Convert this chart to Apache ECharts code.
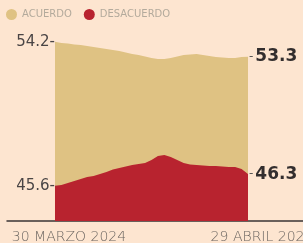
<!DOCTYPE html>
<html>
<head>
<meta charset="utf-8">
<script src="https://cdn.jsdelivr.net/npm/echarts@6/dist/echarts.min.js"></script>
<style>
  html, body { margin: 0; padding: 0; background: #fde5d0; }
  #chart { width: 303px; height: 243px; }
</style>
</head>
<body>
<div id="chart"></div>
<script>
const days = [
  '2024-03-30', '2024-03-31', '2024-04-01', '2024-04-02', '2024-04-03', '2024-04-04',
  '2024-04-05', '2024-04-06', '2024-04-07', '2024-04-08', '2024-04-09', '2024-04-10',
  '2024-04-11', '2024-04-12', '2024-04-13', '2024-04-14', '2024-04-15', '2024-04-16',
  '2024-04-17', '2024-04-18', '2024-04-19', '2024-04-20', '2024-04-21', '2024-04-22',
  '2024-04-23', '2024-04-24', '2024-04-25', '2024-04-26', '2024-04-27', '2024-04-28',
  '2024-04-29'
]
const acuerdo = [
  54.2, 54.13, 54.1, 54.04, 54.01, 53.95, 53.89, 53.83, 53.77, 53.71, 53.65,
  53.56, 53.47, 53.41, 53.32, 53.23, 53.17, 53.17, 53.23, 53.32, 53.41,
  53.44, 53.47, 53.41, 53.35, 53.29, 53.26, 53.23, 53.23, 53.29, 53.3
]
const desacuerdo = [
  45.6, 45.65, 45.77, 45.89, 46.01, 46.13, 46.19, 46.31, 46.43, 46.57, 46.66,
  46.75, 46.84, 46.9, 46.96, 47.14, 47.38, 47.44, 47.32, 47.14, 46.96,
  46.87, 46.84, 46.81, 46.78, 46.78, 46.75, 46.72, 46.72, 46.6, 46.3
]
const seriesNames = ['ACUERDO', 'DESACUERDO']
const tickLabels = ['30 MARZO 2024', '29 ABRIL 2024']

const DAY = 864e5
const t0 = Date.parse(days[0])
const t1 = Date.parse(days[days.length - 1])
const font = 'DejaVu Sans'

function pairs (values) {
  return days.map((d, i) => [Date.parse(d), values[i]])
}

function areaSeries (name, values, color) {
  return {
    name,
    type: 'line',
    data: pairs(values),
    showSymbol: true,
    symbol: 'circle',
    symbolSize: 0,
    color,
    lineStyle: { width: 0 },
    areaStyle: { color, opacity: 1, origin: 'start' },
    label: {
      show: true,
      position: 'left',
      distance: 0,
      fontFamily: font,
      fontSize: 15,
      color: '#4a4545',
      formatter: p => p.dataIndex === 0 ? p.value[1].toFixed(1) + '-' : ''
    },
    endLabel: {
      show: true,
      distance: 1,
      fontFamily: font,
      fontSize: 12,
      color: '#555',
      formatter: p => '-{b|' + p.value[1].toFixed(1) + '}',
      rich: {
        b: { fontFamily: font, fontWeight: 'bold', fontSize: 17, color: '#332e2e', padding: [0, 0, 0, 2] }
      }
    }
  }
}

const chart = echarts.init(document.getElementById('chart'))
chart.setOption({
  animation: false,
  backgroundColor: '#fde5d0',
  legend: {
    data: seriesNames,
    left: 6,
    top: 9,
    padding: 0,
    icon: 'circle',
    itemWidth: 11,
    itemHeight: 11,
    itemGap: 12,
    textStyle: { fontFamily: font, fontSize: 10, color: '#b3aa9c' }
  },
  grid: { left: 7, right: 0, top: 20, bottom: 22, outerBoundsMode: 'none' },
  xAxis: {
    type: 'value',
    min: t0 - 7.46 * DAY,
    max: t1 + 8.55 * DAY,
    axisLine: { lineStyle: { color: '#3a3535', width: 1.5 } },
    axisTick: { show: false },
    splitLine: { show: false },
    axisLabel: {
      customValues: [t0, t1],
      formatter: v => Math.abs(v - t0) < DAY ? tickLabels[0] : tickLabels[1],
      margin: 9,
      padding: [0, 0, 0, 28],
      fontFamily: font,
      fontSize: 14,
      fontWeight: 200,
      color: '#6b6560'
    }
  },
  yAxis: {
    type: 'value',
    min: 43.5,
    max: 55.5,
    show: false
  },
  series: [
    areaSeries(seriesNames[0], acuerdo, '#dfc283'),
    areaSeries(seriesNames[1], desacuerdo, '#b8232f')
  ]
})
</script>
</body>
</html>
